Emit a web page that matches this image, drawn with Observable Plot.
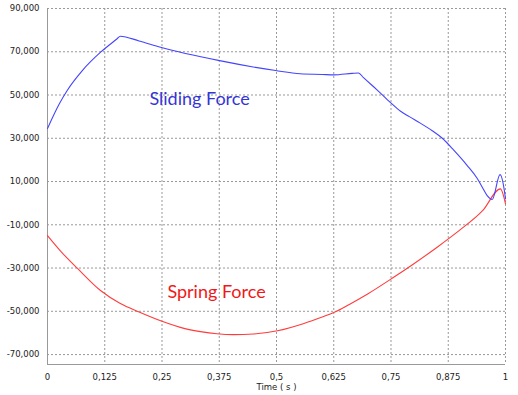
<!DOCTYPE html>
<html>
<head>
<meta charset="utf-8">
<script src="https://cdn.jsdelivr.net/npm/d3@7"></script>
<script src="https://cdn.jsdelivr.net/npm/@observablehq/plot@0.6"></script>
<style>
  html, body { margin: 0; padding: 0; background: #fff; }
</style>
</head>
<body>
<div id="chart"></div>
<script>
// Sliding force (blue)
const slidingTime = [0, 0.025, 0.043, 0.076, 0.116, 0.152, 0.159, 0.2, 0.247, 0.373, 0.498, 0.552, 0.6, 0.625, 0.665, 0.679, 0.69, 0.72, 0.749, 0.771, 0.79, 0.814, 0.84, 0.862, 0.887, 0.916, 0.938, 0.949, 0.96, 0.971, 0.988, 0.998, 1.0];
const slidingForce = [34500, 45600, 52100, 61300, 69800, 76000, 77200, 75000, 72100, 66000, 61300, 59800, 59500, 59300, 60000, 60200, 58000, 52300, 46500, 42500, 40000, 37000, 33500, 30000, 24500, 17500, 11500, 7500, 3500, 1700, 13200, 5100, 2000];

// Spring force (red)
const springTime = [0, 0.03, 0.0655, 0.1157, 0.159, 0.2, 0.25, 0.3, 0.334, 0.37, 0.406, 0.45, 0.502, 0.56, 0.6, 0.625, 0.66, 0.699, 0.755, 0.8, 0.85, 0.9, 0.95, 0.989, 1.0];
const springForce = [-15000, -22500, -30200, -40400, -46400, -50300, -54600, -58000, -59400, -60400, -60800, -60500, -59000, -55600, -52600, -50600, -46700, -42000, -34400, -28000, -20500, -12500, -3500, 6600, -300];

const xTicks = [0, 0.125, 0.25, 0.375, 0.5, 0.625, 0.75, 0.875, 1];
const yTicks = [90000, 70000, 50000, 30000, 10000, -10000, -30000, -50000, -70000];

const seriesLabels = ["Sliding Force", "Spring Force"];
const labelTime = [0.332, 0.369];
const labelForce = [47900, -41100];
const xLabel = "Time ( s )";

const sliding = slidingTime.map((t, i) => ({t, v: slidingForce[i]}));
const spring = springTime.map((t, i) => ({t, v: springForce[i]}));
const yMin = -74600, yMax = 90000;

const fmtY = d => (d < 0 ? "-" : "") + d3.format(",")(Math.abs(d));
const fmtX = d => String(d).replace(".", ",");

const chart = Plot.plot({
  width: 518,
  height: 395,
  marginLeft: 47,
  marginRight: 13,
  marginTop: 8,
  marginBottom: 31,
  style: {fontFamily: "DejaVu Sans", fontSize: "8.5px", color: "#222", background: "#fff"},
  x: {domain: [0, 1]},
  y: {domain: [yMin, yMax]},
  marks: [
    Plot.gridX(xTicks, {stroke: "#999", strokeOpacity: 1, strokeDasharray: "2,2"}),
    Plot.gridY(yTicks, {stroke: "#999", strokeOpacity: 1, strokeDasharray: "2,2"}),
    Plot.ruleX([0], {stroke: "#999"}),
    Plot.ruleY([yMin], {stroke: "#999"}),
    Plot.line(spring, {x: "t", y: "v", stroke: "#ff3c3c", strokeWidth: 1.1, curve: "monotone-x"}),
    Plot.line(sliding, {x: "t", y: "v", stroke: "#4444ff", strokeWidth: 1.1, curve: "monotone-x"}),
    Plot.text([0], {x: () => labelTime[0], y: () => labelForce[0], text: () => seriesLabels[0], fill: "#3535d6", fontSize: 18, fontFamily: "Lato"}),
    Plot.text([0], {x: () => labelTime[1], y: () => labelForce[1], text: () => seriesLabels[1], fill: "#f01818", fontSize: 18, fontFamily: "Lato"}),
    Plot.axisX(xTicks, {tickSize: 0, tickPadding: 9, tickFormat: fmtX, label: null}),
    Plot.axisY(yTicks, {tickSize: 0, tickPadding: 8, tickFormat: fmtY, label: null}),
    Plot.text([xLabel], {frameAnchor: "bottom", dy: 25, text: d => d, fill: "#222"})
  ]
});
document.getElementById("chart").appendChild(chart);
</script>
</body>
</html>
